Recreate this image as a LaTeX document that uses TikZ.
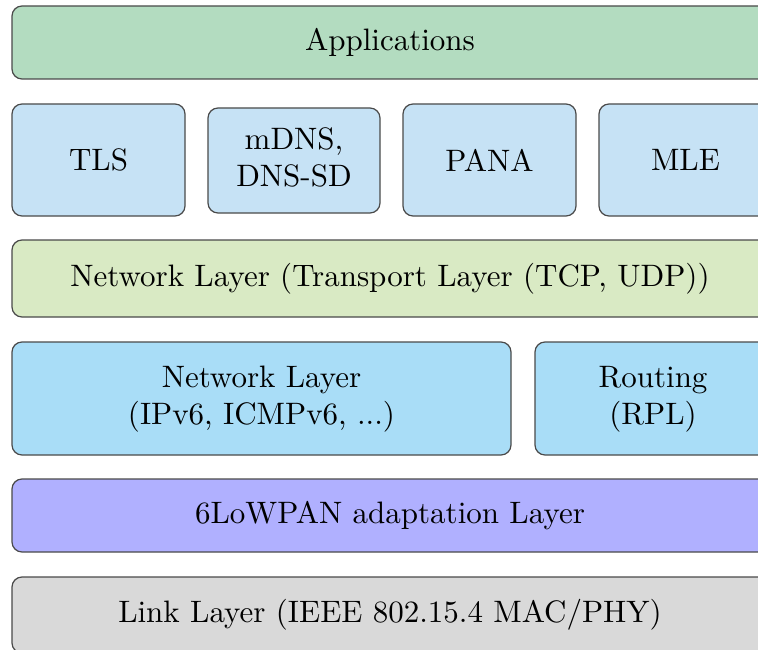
\documentclass[tikz,border=0pt]{standalone}
\usepackage{graphicx}
\definecolor{cApp}{HTML}{B3DCC0}
\definecolor{cProto}{HTML}{C6E2F5}
\definecolor{cTrans}{HTML}{D9EAC4}
\definecolor{cNet}{HTML}{A9DDF7}
\definecolor{cLow}{HTML}{B0B0FF}
\definecolor{cLink}{HTML}{D9D9D9}
\definecolor{cEdge}{HTML}{4A4A4A}
% 10pt text enlarged as a whole, so the regular design size is kept
\newcommand{\bigtext}[1]{\scalebox{3.1}{#1}}
\newcommand{\bigtwo}[1]{\scalebox{3.1}{\begin{tabular}{@{}c@{}}#1\end{tabular}}}
\tikzset{
  layer/.style={draw=cEdge, line width=1.2pt, rounded corners=10pt,
    rectangle, inner sep=0pt, align=center},
}
\begin{document}
\begin{tikzpicture}[x=1pt,y=-1pt]
  \useasboundingbox (0,0) rectangle (758,650);
  \clip (0,0) rectangle (758,650);
  % application layer
  \node[layer, fill=cApp, minimum width=756pt, minimum height=73pt] (app) at (390,42.5) {\bigtext{Applications}};
  % protocols
  \node[layer, fill=cProto, minimum width=173pt, minimum height=112pt] (tls) at (98.5,160) {\bigtext{TLS}};
  \node[layer, fill=cProto, minimum width=172pt, minimum height=105pt] (mdns) at (294,160.5) {\bigtwo{mDNS,\\DNS-SD}};
  \node[layer, fill=cProto, minimum width=173pt, minimum height=112pt] (pana) at (489.5,160) {\bigtext{PANA}};
  \node[layer, fill=cProto, minimum width=173pt, minimum height=112pt] (mle) at (685.5,160) {\bigtext{MLE}};
  % transport
  \node[layer, fill=cTrans, minimum width=756pt, minimum height=77pt] (trans) at (390,278.5) {\bigtext{Network Layer (Transport Layer (TCP, UDP))}};
  % network
  \node[layer, fill=cNet, minimum width=499pt, minimum height=113pt] (net) at (261.5,398.5) {\bigtwo{Network Layer\\(IPv6, ICMPv6, ...)}};
  \node[layer, fill=cNet, minimum width=236pt, minimum height=113pt] (rpl) at (653,398.5) {\bigtwo{Routing\\(RPL)}};
  % adaptation
  \node[layer, fill=cLow, minimum width=756pt, minimum height=73pt] (lowpan) at (390,515.5) {\bigtext{6LoWPAN adaptation Layer}};
  % link
  \node[layer, fill=cLink, minimum width=756pt, minimum height=76pt] (link) at (390,615) {\bigtext{Link Layer (IEEE 802.15.4 MAC/PHY)}};
\end{tikzpicture}
\end{document}
